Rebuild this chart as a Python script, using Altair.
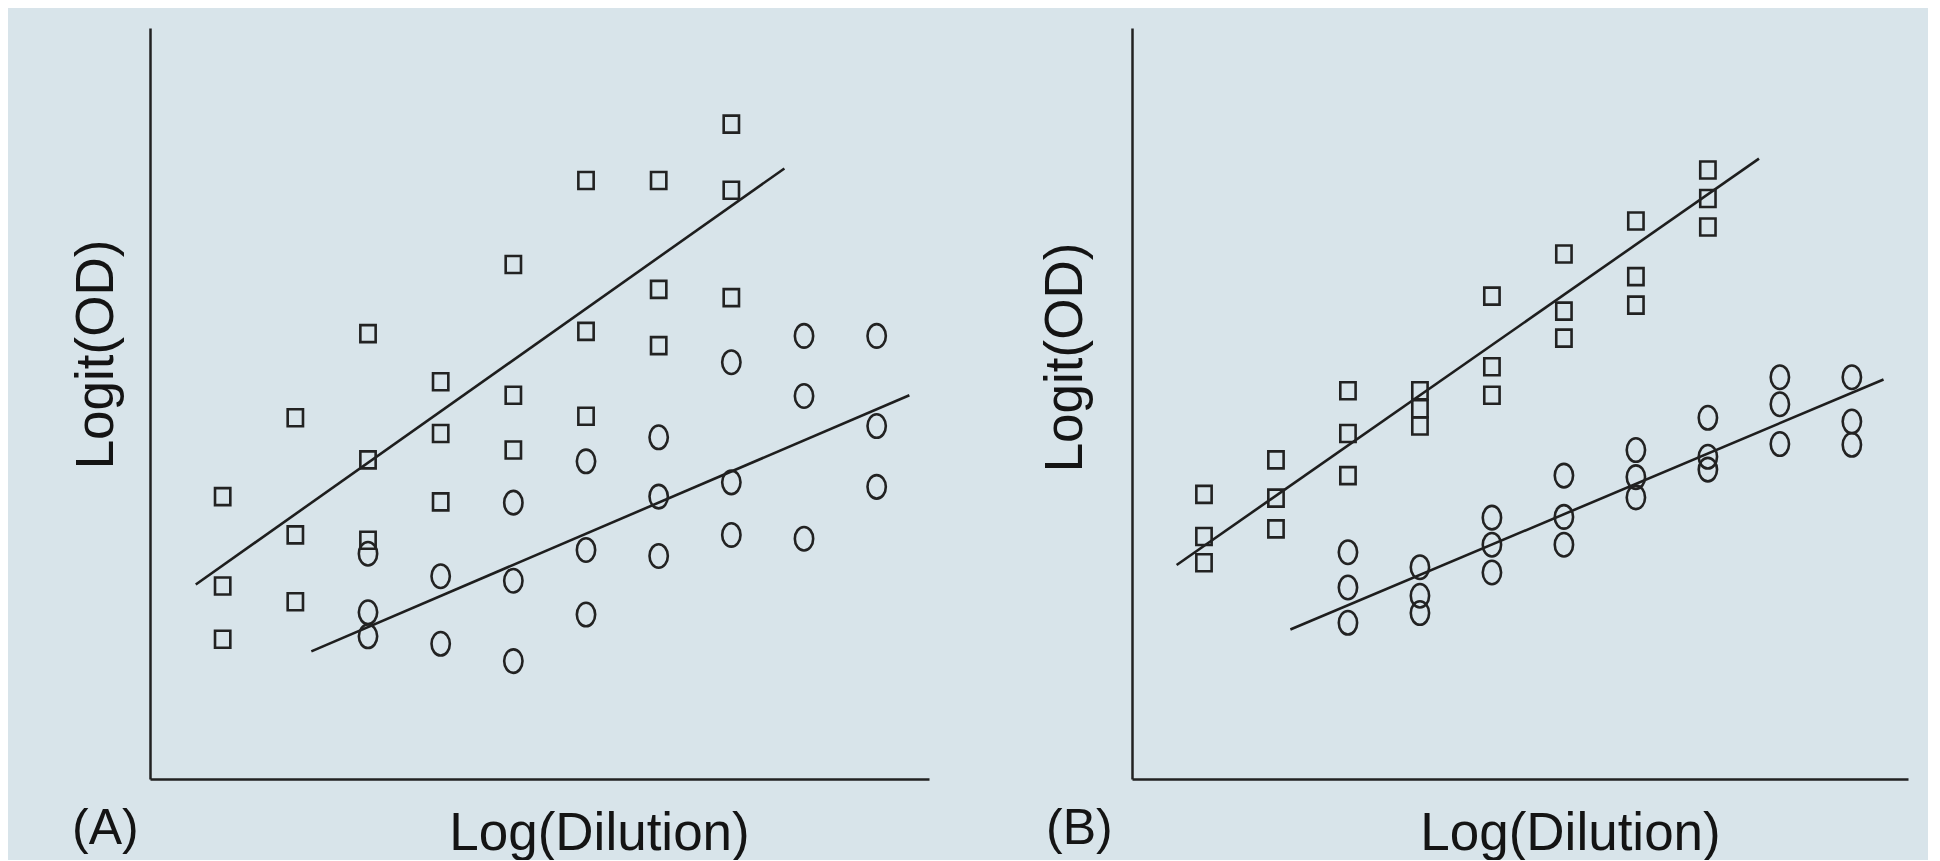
import altair as alt
import pandas as pd

# ---------------- data (arbitrary units) ----------------
# Panel A : squares
a_sq_x = [1, 1, 1, 2, 2, 2, 3, 3, 3, 4, 4, 4, 5, 5, 5, 6, 6, 6, 7, 7, 7, 8, 8, 8]
a_sq_y = [3.76, 2.57, 1.86, 4.81, 3.25, 2.36, 5.93, 4.25, 3.18, 5.29, 4.60, 3.69,
          6.85, 5.11, 4.38, 7.97, 5.96, 4.83, 7.97, 6.52, 5.77, 8.72, 7.84, 6.41]
# Panel A : circles
a_ci_x = [3, 3, 3, 4, 4, 5, 5, 5, 6, 6, 6, 7, 7, 7, 8, 8, 8, 9, 9, 9, 10, 10, 10]
a_ci_y = [3.00, 2.22, 1.90, 2.70, 1.80, 3.68, 2.64, 1.57, 4.23, 3.05, 2.19,
          4.55, 3.76, 2.97, 5.55, 3.95, 3.25, 5.90, 5.10, 3.20, 5.90, 4.70, 3.89]
# Panel A : fitted lines (end points)
a_line_series = ["sq", "sq", "ci", "ci"]
a_line_x = [0.63, 8.73, 2.22, 10.45]
a_line_y = [2.59, 8.13, 1.70, 5.11]

# Panel B : squares
b_sq_x = [1, 1, 1, 2, 2, 2, 3, 3, 3, 4, 4, 4, 5, 5, 5, 6, 6, 6, 7, 7, 7, 8, 8, 8]
b_sq_y = [3.79, 3.23, 2.88, 4.25, 3.74, 3.33, 5.17, 4.60, 4.04, 5.17, 4.93, 4.70,
          6.43, 5.49, 5.11, 6.99, 6.23, 5.87, 7.43, 6.69, 6.31, 8.11, 7.73, 7.35]
# Panel B : circles
b_ci_x = [3, 3, 3, 4, 4, 4, 5, 5, 5, 6, 6, 6, 7, 7, 7, 8, 8, 8, 9, 9, 9, 10, 10, 10]
b_ci_y = [3.02, 2.55, 2.08, 2.82, 2.44, 2.21, 3.48, 3.12, 2.75, 4.04, 3.49, 3.12,
          4.38, 4.02, 3.75, 4.81, 4.29, 4.12, 5.35, 4.99, 4.46, 5.35, 4.76, 4.45]
# Panel B : fitted lines (end points)
b_line_series = ["sq", "sq", "ci", "ci"]
b_line_x = [0.62, 8.71, 2.20, 10.44]
b_line_y = [2.85, 8.26, 1.99, 5.32]

x_title = "Log(Dilution)"
y_title = "Logit(OD)"
panel_labels = ["(A)", "(B)"]

# ---------------- style ----------------
FONT = "Liberation Sans"
FS = 53
BG = "#d8e4ea"
INK = "#222222"
SQ = "M-0.9,-1H0.9V1H-0.9Z"
ELL = "M-0.78,0A0.78,1,0,1,1,0.78,0A0.78,1,0,1,1,-0.78,0Z"


def panel(sq_x, sq_y, ci_x, ci_y, l_s, l_x, l_y, label, w, h, xmax,
          xtx, xty, ytx, yty, lab_x, lab_y):
    xenc = alt.X("x:Q", scale=alt.Scale(domain=[0, xmax], nice=False, zero=False),
                 axis=alt.Axis(title=x_title, ticks=False, labels=False, grid=False,
                               domainColor=INK, domainWidth=2.5,
                               titleFont=FONT, titleFontSize=FS, titleFontWeight="normal",
                               titleColor="#141414", titleX=xtx, titleY=xty,
                               titleAlign="center", titleBaseline="alphabetic",
                               titleAngle=0))
    yenc = alt.Y("y:Q", scale=alt.Scale(domain=[0, 10], nice=False, zero=False),
                 axis=alt.Axis(title=y_title, ticks=False, labels=False, grid=False,
                               domainColor=INK, domainWidth=2.5,
                               titleFont=FONT, titleFontSize=FS, titleFontWeight="normal",
                               titleColor="#141414", titleX=ytx, titleY=yty,
                               titleAlign="center", titleBaseline="alphabetic",
                               titleAngle=270))
    sq = alt.Chart(pd.DataFrame({"x": sq_x, "y": sq_y})).mark_point(
        shape=SQ, size=289, filled=False, stroke=INK, strokeWidth=2.6, opacity=1
    ).encode(x=xenc, y=yenc)
    ci = alt.Chart(pd.DataFrame({"x": ci_x, "y": ci_y})).mark_point(
        shape=ELL, size=552, filled=False, stroke=INK, strokeWidth=2.6, opacity=1
    ).encode(x=xenc, y=yenc)
    ln = alt.Chart(pd.DataFrame({"s": l_s, "x": l_x, "y": l_y})).mark_line(
        color="#1e1e1e", strokeWidth=2.6
    ).encode(x=xenc, y=yenc, detail="s:N")
    tx = alt.Chart(pd.DataFrame({"t": [label]})).mark_text(
        font=FONT, fontSize=50, align="left", baseline="alphabetic", color="#141414"
    ).encode(x=alt.value(lab_x), y=alt.value(lab_y), text="t:N")
    return alt.layer(ln, sq, ci, tx).properties(width=w, height=h)


pa = panel(a_sq_x, a_sq_y, a_ci_x, a_ci_y, a_line_series, a_line_x, a_line_y,
           panel_labels[0], 779, 751, 10.72, 449, 70, -38, 326, -78, 816)
pb = panel(b_sq_x, b_sq_y, b_ci_x, b_ci_y, b_line_series, b_line_x, b_line_y,
           panel_labels[1], 776, 751, 10.78, 438, 70, -51, 329, -86, 816)

chart = alt.hconcat(pa, pb, spacing=110).properties(
    background=BG,
    padding={"left": 62, "top": 20, "right": 20, "bottom": 0},
).configure_view(stroke=None)

chart.save("out.html", embed_options={"renderer": "svg", "actions": False})
